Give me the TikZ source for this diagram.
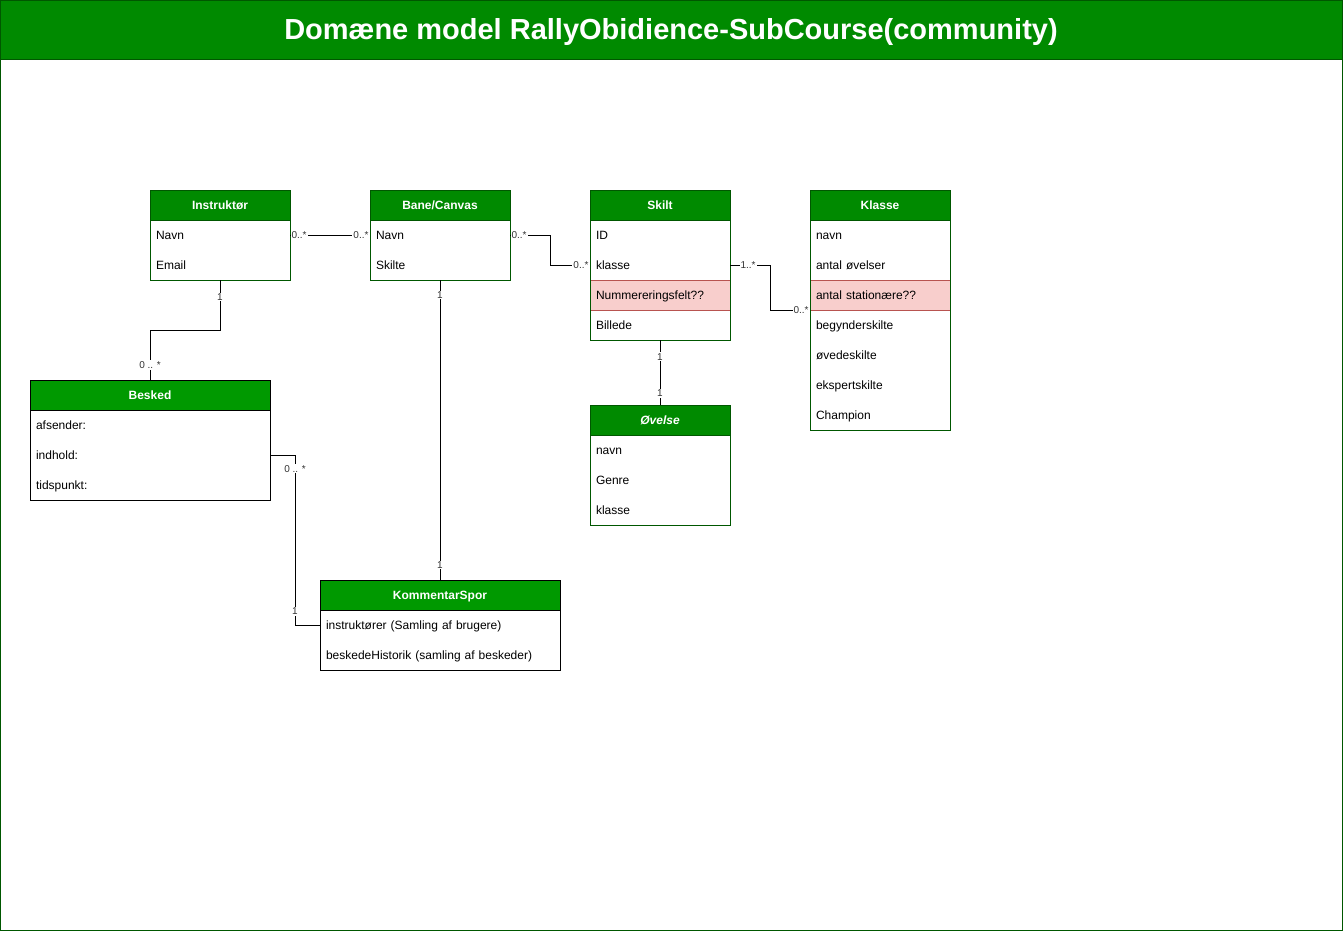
\documentclass[tikz,border=0pt]{standalone}
\usepackage{fontspec}
\setmainfont{Liberation Sans}
\usetikzlibrary{positioning}
\definecolor{hdgreen}{HTML}{008A00}
\definecolor{hdlight}{HTML}{009900}
\definecolor{boxgreen}{HTML}{005700}
\definecolor{redfill}{HTML}{F8CECC}
\definecolor{redline}{HTML}{B85450}

\begin{document}
\begin{tikzpicture}
[x=1pt,y=-1pt,line width=1pt,
 head/.style={draw=boxgreen,fill=hdgreen,text=white,font=\bfseries\fontsize{12}{14}\selectfont,
   minimum width=140pt,minimum height=30pt,inner sep=0pt,outer sep=0pt,anchor=north west,
   text height=10pt,text depth=2pt},
 lighthead/.style={head,draw=black,fill=hdlight,minimum width=240pt},
 attr/.style={text width=128pt,minimum height=30pt,inner xsep=6pt,inner ysep=0pt,outer sep=0pt,
   align=left,font=\fontsize{12}{14}\selectfont,text height=10pt,text depth=2pt},
 wideattr/.style={attr,text width=228pt},
 flag/.style={attr,draw=redline,fill=redfill},
 mult/.style={fill=white,inner sep=1pt,text=black!80,font=\fontsize{10}{11}\selectfont},
 title/.style={text=white,font=\bfseries\fontsize{29}{33}\selectfont,text height=21pt,text depth=6pt}]
\useasboundingbox (0,0) rectangle (1343,931);
% frame and title
\fill[hdgreen] (0,0) rectangle (1343,60);
\draw[boxgreen] (0.5,0.5) rectangle (1342.5,930.5);
\draw[boxgreen] (0,60) -- (1343,60);
\node[title] (ttl) at (671,32) {Domæne model RallyObidience-SubCourse(community)};

% Instruktør
\node[head] (ins) at (150,190) {Instruktør};
\node[attr,below=0pt of ins] (ins1) {Navn};
\node[attr,below=0pt of ins1] (ins2) {Email};
\draw[boxgreen] (ins.north west) rectangle (ins2.south east);

% Bane/Canvas
\node[head] (bane) at (370,190) {Bane/Canvas};
\node[attr,below=0pt of bane] (bane1) {Navn};
\node[attr,below=0pt of bane1] (bane2) {Skilte};
\draw[boxgreen] (bane.north west) rectangle (bane2.south east);

% Skilt
\node[head] (skilt) at (590,190) {Skilt};
\node[attr,below=0pt of skilt] (skilt1) {ID};
\node[attr,below=0pt of skilt1] (skilt2) {klasse};
\node[flag,below=0pt of skilt2] (skilt3) {Nummereringsfelt??};
\node[attr,below=0pt of skilt3] (skilt4) {Billede};
\draw[boxgreen] (skilt.north west) rectangle (skilt4.south east);

% Klasse
\node[head] (kl) at (810,190) {Klasse};
\node[attr,below=0pt of kl] (kl1) {navn};
\node[attr,below=0pt of kl1] (kl2) {antal øvelser};
\node[flag,below=0pt of kl2] (kl3) {antal stationære??};
\node[attr,below=0pt of kl3] (kl4) {begynderskilte};
\node[attr,below=0pt of kl4] (kl5) {øvedeskilte};
\node[attr,below=0pt of kl5] (kl6) {ekspertskilte};
\node[attr,below=0pt of kl6] (kl7) {Champion};
\draw[boxgreen] (kl.north west) rectangle (kl7.south east);

% Øvelse
\node[head] (ov) at (590,405) {\itshape Øvelse};
\node[attr,below=0pt of ov] (ov1) {navn};
\node[attr,below=0pt of ov1] (ov2) {Genre};
\node[attr,below=0pt of ov2] (ov3) {klasse};
\draw[boxgreen] (ov.north west) rectangle (ov3.south east);

% Besked
\node[lighthead] (bes) at (30,380) {Besked};
\node[wideattr,below=0pt of bes] (bes1) {afsender:};
\node[wideattr,below=0pt of bes1] (bes2) {indhold:};
\node[wideattr,below=0pt of bes2] (bes3) {tidspunkt:};
\draw (bes.north west) rectangle (bes3.south east);

% KommentarSpor
\node[lighthead] (ks) at (320,580) {KommentarSpor};
\node[wideattr,below=0pt of ks] (ks1) {instruktører (Samling af brugere)};
\node[wideattr,below=0pt of ks1] (ks2) {beskedeHistorik (samling af beskeder)};
\draw (ks.north west) rectangle (ks2.south east);

% associations
\draw (ins1.east) -- node[mult,pos=0,anchor=west] {0..*}
  node[mult,pos=1,anchor=east] {0..*} (bane1.west);
\draw (bane1.east) -- ++(40,0) |- node[mult,pos=0,anchor=west,xshift=-40pt] {0..*}
  node[mult,pos=1,anchor=east] {0..*} (skilt2.west);
\draw (skilt2.east) -- ++(40,0) |- node[mult,pos=1,anchor=east] {0..*} (kl4.north west);
\node[mult] (m1) at (748,265) {1..*};
\draw (ins2.south) -- node[mult,pos=0.34] {1} ++(0,50) -| node[mult,pos=0.85] {0 .. *} (bes.north);
\draw (bane2.south) -- node[mult,pos=0.05] {1} node[mult,pos=0.95] {1} (ks.north);
\draw (skilt4.south) -- node[mult,pos=0.26] {1} node[mult,pos=0.82] {1} (ov.north);
\draw (bes2.east) -- ++(25,0) |- node[mult,pos=0.04] {0 .. *} node[mult,pos=0.46] {1} (ks1.west);
\end{tikzpicture}
\end{document}
